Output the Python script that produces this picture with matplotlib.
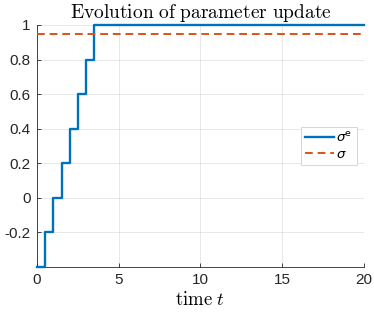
import matplotlib
matplotlib.use("Agg")
import matplotlib.pyplot as plt
import numpy as np

# Data
t_steps = [0, 0.5, 1.0, 1.5, 2.0, 2.5, 3.0, 3.5, 20]
sigma_e = [-0.4, -0.2, 0.0, 0.2, 0.4, 0.6, 0.8, 1.0, 1.0]
sigma_val = 0.95
x_ticks = [0, 5, 10, 15, 20]
y_ticks = [-0.2, 0, 0.2, 0.4, 0.6, 0.8, 1]
y_tick_labels = ['-0.2', '0', '0.2', '0.4', '0.6', '0.8', '1']

plt.rcParams['font.family'] = ['Liberation Sans', 'DejaVu Sans']
plt.rcParams['mathtext.fontset'] = 'cm'

fig = plt.figure(figsize=(3.74, 3.12), dpi=100)
ax = fig.add_axes([0.099, 0.144, 0.874, 0.776])

blue = '#0072BD'
orange = '#D95319'
ax.step(t_steps, sigma_e, where='post', color=blue, lw=1.7, label=r'$\sigma^{\mathrm{e}}$',
        zorder=3, clip_on=False)
ax.plot([0, 20], [sigma_val, sigma_val], color=orange, lw=1.4, ls=(0, (4, 2.5)), label=r'$\sigma$', zorder=3)

ax.set_xlim(0, 20)
ax.set_ylim(-0.4, 1)
ax.set_xticks(x_ticks)
ax.set_xticklabels([str(v) for v in x_ticks])
ax.set_yticks(y_ticks)
ax.set_yticklabels(y_tick_labels)
ax.tick_params(direction='in', length=3, width=0.6, colors='#262626', labelsize=11, pad=4.5)
ax.grid(True, color='#262626', alpha=0.12, lw=0.6)
ax.set_axisbelow(True)
for s in ['top', 'right']:
    ax.spines[s].set_visible(False)
for s in ['left', 'bottom']:
    ax.spines[s].set_color('#262626')
    ax.spines[s].set_linewidth(0.6)

ax.set_title(r'$\mathrm{Evolution\ of\ parameter\ update}$', fontsize=14, pad=5, color='#000000')
ax.set_xlabel(r'$\mathrm{time}\ t$', fontsize=13.5, labelpad=3)

leg = ax.legend(loc='center right', bbox_to_anchor=(0.99, 0.5),
                prop={'math_fontfamily': 'dejavusans', 'size': 9.5},
                frameon=True, fancybox=False, edgecolor='#d0d0d0', framealpha=1,
                handlelength=2.2, handletextpad=0.2, borderpad=0.3, labelspacing=0.3, borderaxespad=0.3)
leg.get_frame().set_linewidth(0.6)

fig.savefig('out.png', dpi=100)
